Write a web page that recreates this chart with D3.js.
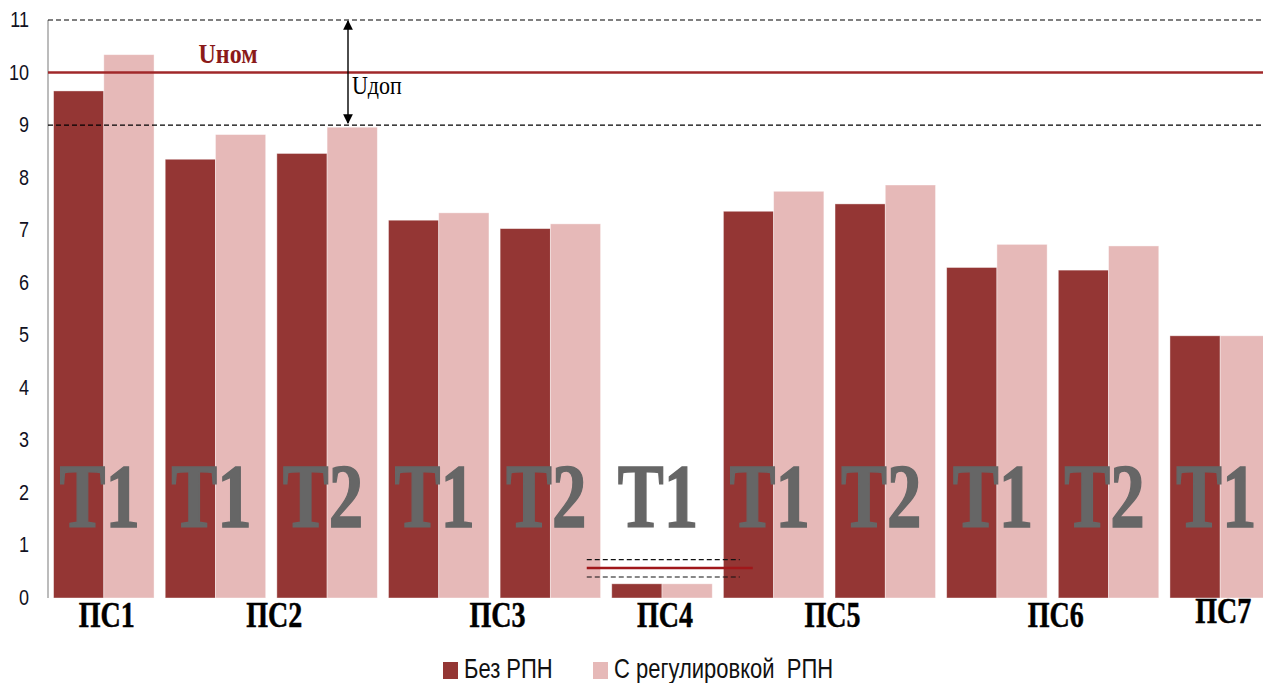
<!DOCTYPE html>
<html>
<head>
<meta charset="utf-8">
<script src="https://cdn.jsdelivr.net/npm/d3@7/dist/d3.min.js"></script>
<style>
  html, body { margin: 0; padding: 0; background: #fff; }
  svg { display: block; }
</style>
</head>
<body>
<svg id="chart" width="1263" height="683"></svg>
<script>
// Substations and their transformers, one bar group per transformer
const stations = ["ПС1", "ПС2", "ПС2", "ПС3", "ПС3", "ПС4", "ПС5", "ПС5", "ПС6", "ПС6", "ПС7"];
const transformers = ["Т1", "Т1", "Т2", "Т1", "Т2", "Т1", "Т1", "Т2", "Т1", "Т2", "Т1"];
// Voltage per transformer
const withoutRPN = [9.65, 8.35, 8.46, 7.19, 7.03, 0.27, 7.36, 7.50, 6.29, 6.24, 4.99];
const withRPN    = [10.34, 8.82, 8.96, 7.33, 7.12, 0.27, 7.74, 7.86, 6.73, 6.70, 4.99];
const seriesNames = ["Без РПН", "С регулировкой  РПН"];
const yTicks = [0, 1, 2, 3, 4, 5, 6, 7, 8, 9, 10, 11];
// Nominal voltage and allowed band
const uNom = 10;
const uDop = [9, 11];
// Small reference band drawn next to ПС4
const ps4Nom = 0.57;
const ps4Dop = [0.40, 0.73];

const colors = ["#943634", "#e6b9b8"];
const svg = d3.select("#chart");

const y = d3.scaleLinear().domain([0, 11]).range([598, 20]);
const x = d3.scaleBand().domain(d3.range(stations.length)).range([48, 1276])
  .paddingInner(0.1).paddingOuter(0.05);
const xs = d3.scaleBand().domain([0, 1]).range([0, x.bandwidth()]);

// stretched text helper (tall glyphs)
function stretchText(g, tx, ty, sy) {
  return g.append("text").attr("transform", `translate(${tx},${ty}) scale(1,${sy})`);
}

// bars
const groups = svg.append("g").selectAll("g").data(d3.range(stations.length)).join("g")
  .attr("transform", i => `translate(${x(i)},0)`);
[withoutRPN, withRPN].forEach((series, s) => {
  groups.append("rect")
    .attr("x", xs(s))
    .attr("width", xs.bandwidth())
    .attr("y", i => y(series[i]))
    .attr("height", i => y(0) - y(series[i]))
    .attr("fill", colors[s])
    .attr("stroke", "rgba(255,255,255,0.5)")
    .attr("stroke-width", 0.8);
});

// transformer labels over the bars
d3.range(stations.length).forEach(i => {
  stretchText(svg, x(i) + x.bandwidth() / 2 - 4, 527, 1.32)
    .attr("text-anchor", "middle")
    .attr("font-family", "Liberation Serif, Times New Roman, serif")
    .attr("font-weight", "bold")
    .attr("font-size", 69)
    .attr("fill", "#666666")
    .attr("stroke", "#666666")
    .attr("stroke-width", 1.2)
    .text(transformers[i]);
});

// y axis
svg.append("line").attr("x1", 48).attr("x2", 48).attr("y1", y(11)).attr("y2", y(0))
  .attr("stroke", "#a6a6a6").attr("stroke-width", 1.5);
yTicks.forEach(t => {
  stretchText(svg, 29, y(t) + 7, 1.2)
    .attr("text-anchor", "end")
    .attr("font-family", "Liberation Sans, Arial, sans-serif")
    .attr("font-size", 18)
    .attr("fill", "#111122")
    .text(t);
});

// station labels centred under their transformer groups
const stationNames = Array.from(new Set(stations));
stationNames.forEach(name => {
  const idx = d3.range(stations.length).filter(i => stations[i] === name);
  const cx = d3.mean(idx, i => x(i) + x.bandwidth() / 2) + 3;
  stretchText(svg, cx, name === "ПС7" ? 623 : 627, 1.25)
    .attr("text-anchor", "middle")
    .attr("font-family", "Liberation Serif, Times New Roman, serif")
    .attr("font-weight", "bold")
    .attr("font-size", 28)
    .attr("fill", "#000")
    .attr("stroke", "#000")
    .attr("stroke-width", 0.4)
    .text(name);
});

// allowed band limits
uDop.forEach(v => {
  svg.append("line").attr("x1", 48).attr("x2", 1263).attr("y1", y(v)).attr("y2", y(v))
    .attr("stroke", "#000").attr("stroke-width", 1.1).attr("stroke-dasharray", "5,3");
});
// nominal line
svg.append("line").attr("x1", 48).attr("x2", 1263).attr("y1", y(uNom)).attr("y2", y(uNom))
  .attr("stroke", "#a0282a").attr("stroke-width", 2.6);
stretchText(svg, 228, 63, 1.15)
  .attr("text-anchor", "middle")
  .attr("font-family", "Liberation Serif, Times New Roman, serif")
  .attr("font-weight", "bold")
  .attr("font-size", 24)
  .attr("fill", "#8b1a1a")
  .text("Uном");

// double arrow for the allowed deviation
const defs = svg.append("defs");
defs.append("marker").attr("id", "ah").attr("viewBox", "0 0 10 10")
  .attr("refX", 9).attr("refY", 5).attr("markerWidth", 7).attr("markerHeight", 7)
  .attr("orient", "auto-start-reverse")
  .append("path").attr("d", "M0,0 L10,5 L0,10 Z").attr("fill", "#000");
svg.append("line").attr("x1", 348).attr("x2", 348).attr("y1", y(uDop[1]) + 1).attr("y2", y(uDop[0]) - 2)
  .attr("stroke", "#000").attr("stroke-width", 1.4)
  .attr("marker-start", "url(#ah)").attr("marker-end", "url(#ah)");
stretchText(svg, 352, 94, 1.15)
  .attr("font-family", "Liberation Serif, Times New Roman, serif")
  .attr("font-size", 22)
  .attr("fill", "#000")
  .text("Uдоп");

// reference band next to ПС4
const ps4Start = x(stations.indexOf("ПС4")) - 25;
ps4Dop.forEach(v => {
  svg.append("line").attr("x1", ps4Start).attr("x2", ps4Start + 153).attr("y1", y(v)).attr("y2", y(v))
    .attr("stroke", "#111").attr("stroke-width", 1.1).attr("stroke-dasharray", "5,3");
});
svg.append("line").attr("x1", ps4Start).attr("x2", ps4Start + 166).attr("y1", y(ps4Nom)).attr("y2", y(ps4Nom))
  .attr("stroke", "#a0171a").attr("stroke-width", 2.6);

// legend
const legendX = [443, 593];
seriesNames.forEach((name, s) => {
  svg.append("rect").attr("x", legendX[s]).attr("y", 662).attr("width", 15).attr("height", 17)
    .attr("fill", colors[s]);
  stretchText(svg, legendX[s] + 21, 678, 1.22)
    .attr("font-family", "Liberation Sans, Arial, sans-serif")
    .attr("font-size", 22)
    .attr("fill", "#111")
    .attr("xml:space", "preserve")
    .style("white-space", "pre")
    .text(name);
});
</script>
</body>
</html>
